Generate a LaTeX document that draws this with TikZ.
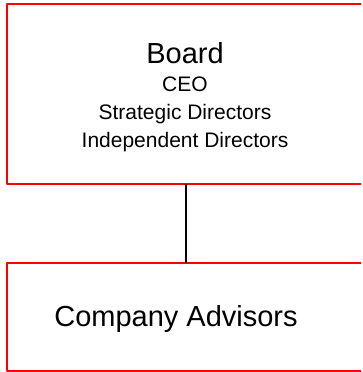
\documentclass[tikz,border=0pt]{standalone}
\usepackage{fontspec}
\setmainfont{Liberation Sans}
\begin{document}
\begin{tikzpicture}[x=1pt,y=-1pt,line join=round,
  box/.style={minimum width=354pt,inner sep=0pt,outer sep=0pt,anchor=north west},
  edge/.style={draw=red,line width=2pt},
  big/.style={font=\fontsize{29}{34}\selectfont}]
\useasboundingbox (0,0) rectangle (363,372);
% the two boxes, open at the right edge
\node[box,minimum height=180pt] (board) at (7,4) {};
\node[box,minimum height=108pt] (advisors) at (7,263) {};
\draw[edge] (board.north east) -- (board.north west) -- (board.south west) -- (board.south east);
\draw[edge] (advisors.north east) -- (advisors.north west) -- (advisors.south west) -- (advisors.south east);
\node[align=center,inner sep=0pt,anchor=north,font=\fontsize{21}{28}\selectfont] (boardtext) at (185,42)
  {{\fontsize{29}{29}\selectfont Board}\\CEO\\Strategic Directors\\Independent Directors};
\node[big,anchor=base] (advisorstext) at (176,326) {Company Advisors};
\draw[line width=1.5pt] (board.south -| 186,0) -- (advisors.north -| 186,0);
\end{tikzpicture}
\end{document}
